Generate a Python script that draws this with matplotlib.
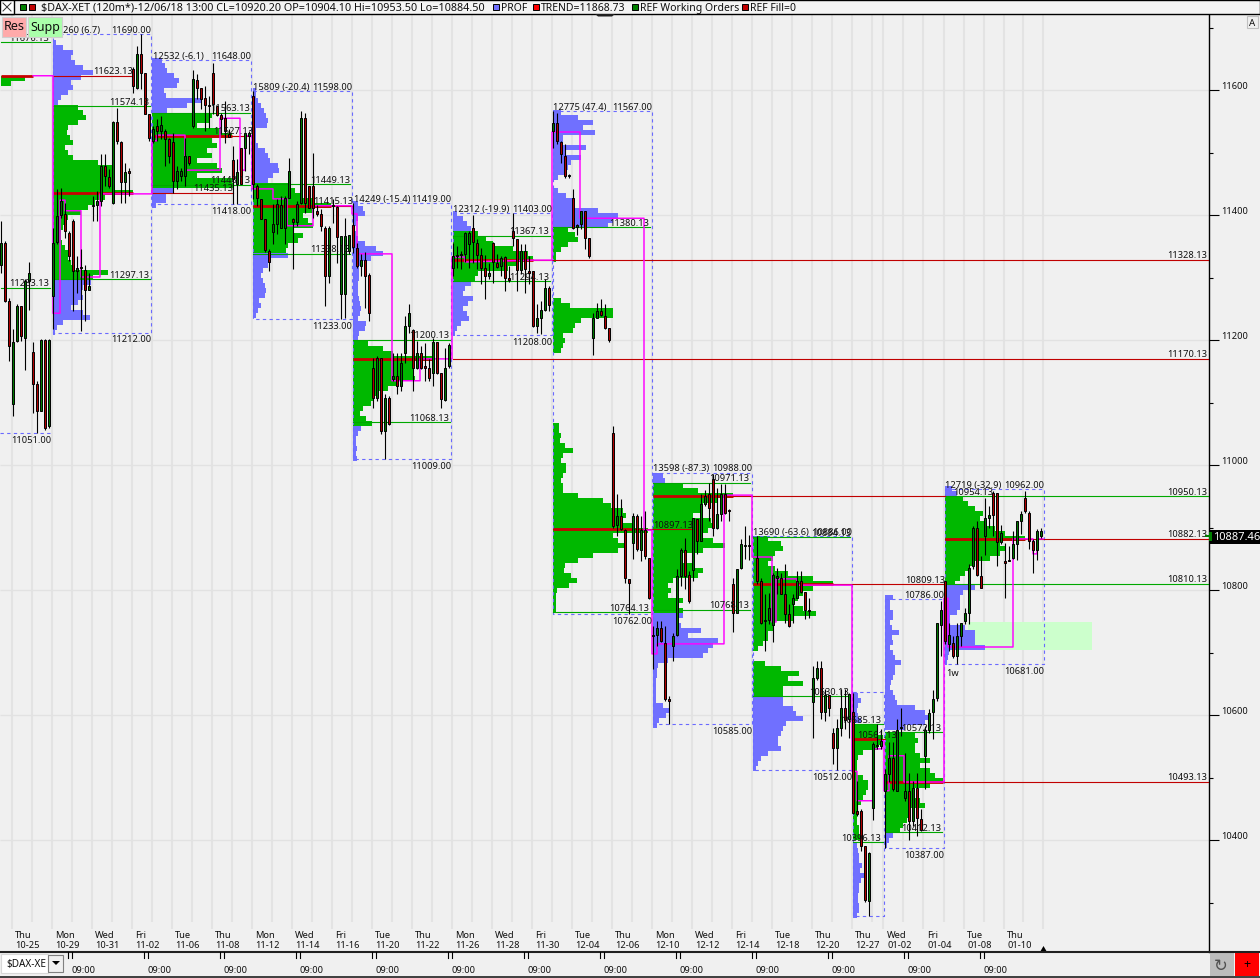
import numpy as np
import matplotlib
matplotlib.use("Agg")
import matplotlib.pyplot as plt
from matplotlib.patches import Rectangle, Polygon

plt.rcParams['font.family'] = ['Noto Sans', 'DejaVu Sans']

read_shift = 4.8

# (bar, open, high, low, close)
candles_oct = [
    (0,11316,11386,11303,11351),(1,11351,11354,11256,11258),(2,11257,11263,11162,11186),(3,11093,11213,11074,11192),
    (4,11193,11253,11192,11249),(5,11249,11249,11194,11201),(6,11199,11293,11148,11290),(7,11289,11320,11244,11302),
    (8,11176,11192,11079,11125),(9,11125,11130,11046,11082),(10,11082,11197,11082,11196),(11,11196,11197,11052,11055),
    (12,11057,11197,11054,11196),(13,11266,11374,11213,11351),(14,11352,11437,11349,11393),(15,11395,11439,11391,11418),
    (16,11397,11414,11358,11369),(17,11366,11370,11322,11330),(18,11385,11389,11242,11305),(19,11305,11329,11271,11311),
    (20,11311,11341,11209,11310),(21,11308,11315,11226,11276),(22,11276,11303,11276,11281),(23,11410,11426,11386,11412),
    (24,11411,11434,11386,11418),(25,11417,11493,11410,11473),(26,11474,11493,11442,11457),(27,11456,11469,11439,11442),
    (28,11415,11546,11413,11544),(29,11544,11567,11509,11514),(30,11512,11514,11415,11448),(31,11448,11479,11415,11464),
    (32,11465,11471,11426,11463),(33,11629,11632,11591,11601),(34,11599,11666,11597,11653),(35,11653,11685,11597,11623),
    (36,11622,11622,11557,11557),(37,11557,11557,11514,11519),(38,11514,11538,11511,11533),(39,11538,11549,11514,11530),
    (40,11530,11554,11517,11539),(41,11530,11533,11474,11517),(42,11517,11519,11479,11490),(43,11512,11527,11431,11450),
    (44,11450,11474,11437,11466),(45,11457,11471,11450,11466),(46,11457,11519,11442,11489),(47,11489,11489,11476,11479),
]
candles_nov1 = [
    (48,11537,11628,11535,11613),(49,11611,11621,11581,11599),(50,11599,11599,11565,11581),(51,11582,11602,11530,11571),
    (52,11571,11586,11535,11570),(53,11623,11639,11557,11573),(54,11570,11570,11553,11555),(55,11555,11559,11525,11549),
    (56,11551,11578,11511,11530),(57,11525,11533,11520,11520),(58,11483,11506,11413,11453),(59,11445,11485,11413,11464),
    (60,11502,11502,11445,11445),(61,11502,11526,11466,11526),(62,11522,11530,11493,11526),(63,11586,11594,11421,11445),
    (64,11442,11445,11410,11422),(65,11421,11421,11389,11389),(66,11389,11389,11336,11340),(67,11338,11341,11306,11320),
    (68,11368,11413,11349,11381),(69,11381,11421,11365,11413),(70,11374,11426,11374,11411),(71,11375,11426,11349,11423),
    (72,11423,11487,11423,11466),(73,11389,11391,11309,11384),(74,11384,11418,11378,11413),(75,11414,11562,11413,11550),
    (76,11550,11559,11399,11415),(77,11441,11441,11407,11407),(78,11441,11495,11391,11407),(79,11402,11412,11394,11397),
    (80,11397,11405,11370,11378),(81,11375,11378,11250,11297),(82,11297,11378,11287,11375),(83,11411,11421,11383,11409),
    (84,11408,11410,11319,11360),(85,11269,11362,11229,11361),(86,11269,11391,11231,11362),(87,11337,11363,11333,11363),
    (88,11379,11415,11335,11344),(89,11343,11351,11311,11313),(90,11314,11333,11298,11323),(91,11323,11336,11247,11298),
    (92,11299,11302,11226,11239),(93,11151,11167,11087,11103),(94,11103,11170,11097,11166),(95,11166,11167,11045,11050),
    (96,11050,11109,11005,11103),(97,11102,11106,11059,11061),(98,11133,11175,11130,11137),(99,11137,11174,11109,11122),
]
candles_nov2 = [
    (100,11122,11175,11114,11159),(101,11174,11234,11159,11217),(102,11217,11253,11207,11238),(103,11212,11213,11114,11150),
    (104,11150,11194,11149,11175),(105,11175,11186,11149,11151),(106,11152,11191,11130,11151),(107,11151,11165,11130,11134),
    (108,11142,11199,11122,11192),(109,11192,11192,11141,11143),(110,11143,11143,11087,11101),(111,11100,11183,11098,11150),
    (112,11153,11191,11151,11187),(113,11311,11350,11297,11330),(114,11330,11346,11311,11332),(115,11331,11338,11309,11333),
    (116,11333,11368,11320,11366),(117,11349,11370,11311,11366),(118,11375,11395,11319,11352),(119,11351,11357,11309,11331),
    (120,11331,11343,11285,11311),(121,11310,11331,11261,11297),(122,11297,11319,11293,11303),(123,11350,11352,11287,11320),
    (124,11319,11333,11311,11312),(125,11314,11330,11298,11327),(126,11328,11330,11274,11295),(127,11293,11314,11288,11292),
    (128,11370,11399,11346,11358),(129,11357,11357,11274,11308),(130,11308,11349,11301,11338),(131,11338,11349,11271,11309),
    (132,11304,11330,11285,11303),(133,11305,11305,11216,11217),(134,11217,11253,11207,11231),(135,11231,11258,11205,11244),
    (136,11244,11293,11242,11278),(137,11278,11282,11242,11251),
]
candles_dec1 = [
    (138,11530,11562,11503,11543),(139,11543,11559,11509,11514),(140,11512,11514,11479,11493),(141,11490,11509,11455,11457),
    (142,11457,11461,11455,11459),(143,11423,11437,11373,11375),(144,11376,11381,11363,11379),(145,11381,11402,11373,11402),
    (146,11402,11402,11341,11359),(147,11358,11359,11326,11330),(148,11199,11239,11171,11230),(149,11231,11255,11230,11241),
    (150,11241,11261,11234,11235),(151,11234,11253,11213,11215),(152,11214,11215,11192,11196),(153,11047,11058,10895,10898),
    (154,10899,10949,10881,10914),(155,10914,10941,10891,10893),(156,10892,10893,10807,10815),(157,10813,10813,10757,10807),
    (158,10871,10919,10845,10913),(159,10914,10917,10858,10861),(160,10860,10914,10842,10891),(161,10891,10921,10845,10849),
    (162,10847,10847,10781,10783),(163,10722,10738,10669,10721),(164,10724,10746,10706,10735),(165,10734,10746,10712,10713),
    (166,10711,10738,10618,10621),(167,10621,10626,10581,10618),(168,10706,10727,10682,10721),(169,10723,10829,10722,10818),
    (170,10818,10862,10802,10859),(171,10859,10879,10797,10818),(172,10820,10826,10775,10777),(173,10828,10911,10810,10910),
    (174,10909,10909,10853,10873),(175,10874,10949,10874,10933),(176,10933,10956,10930,10946),(177,10949,10967,10906,10926),
    (178,10973,10981,10882,10895),(179,10894,10959,10893,10917),(180,10917,10965,10905,10949),(181,10949,10965,10917,10919),
    (182,10923,10925,10905,10921),
]
candles_dec2 = [
    (183,10805,10814,10728,10759),(184,10759,10829,10759,10829),(185,10830,10877,10829,10869),(186,10865,10897,10845,10867),
    (187,10868,10883,10844,10865),(189,10846,10882,10805,10810),(190,10810,10815,10741,10742),(191,10745,10789,10697,10748),
    (192,10748,10791,10741,10766),(193,10739,10823,10712,10819),(194,10815,10830,10789,10816),(195,10815,10823,10789,10789),
    (196,10789,10837,10743,10757),(197,10757,10773,10736,10737),(198,10773,10789,10743,10783),(199,10783,10826,10783,10810),
    (200,10810,10826,10790,10792),(201,10792,10792,10749,10764),(202,10763,10782,10750,10762),(203,10616,10674,10559,10654),
    (204,10654,10682,10652,10670),(205,10670,10682,10589,10600),(206,10600,10637,10586,10627),(207,10627,10627,10593,10607),
    (208,10567,10575,10517,10543),(209,10543,10589,10508,10574),(210,10574,10637,10561,10607),(211,10607,10637,10573,10588),
    (212,10589,10631,10559,10629),(213,10600,10631,10437,10439),(214,10442,10490,10434,10437),(215,10442,10445,10378,10386),
    (216,10385,10386,10296,10300),(217,10298,10376,10274,10375),(218,10447,10552,10428,10549),(219,10546,10581,10541,10548),
    (220,10546,10573,10541,10554),(221,10474,10509,10382,10501),(222,10501,10552,10488,10526),(223,10527,10552,10474,10477),
    (224,10474,10589,10474,10572),(225,10574,10607,10562,10576),(226,10462,10534,10458,10473),(227,10473,10503,10396,10426),
]
candles_jan = [
    (228,10426,10490,10418,10478),(229,10478,10503,10401,10430),(230,10429,10445,10410,10412),(231,10530,10578,10477,10571),
    (232,10572,10605,10567,10599),(233,10600,10636,10557,10621),(234,10623,10743,10618,10742),(235,10739,10778,10690,10763),
    (236,10809,10810,10709,10713),(237,10709,10743,10698,10723),(238,10710,10722,10687,10689),(239,10689,10743,10677,10721),
    (240,10721,10743,10706,10742),(241,10746,10767,10741,10758),(242,10759,10837,10741,10831),(243,10833,10897,10829,10895),
    (244,10895,10906,10818,10819),(245,10818,10850,10798,10799),(246,10881,10942,10851,10910),(247,10911,10930,10895,10915),
    (248,10950,10954,10882,10915),(249,10950,10951,10834,10872),(250,10872,10899,10869,10887),(251,10842,10871,10783,10839),
    (252,10844,10866,10842,10842),(253,10847,10890,10845,10869),(254,10869,10906,10844,10906),(255,10906,10922,10885,10917),
    (256,10943,10953,10919,10921),(257,10918,10922,10861,10874),(258,10873,10877,10823,10860),(259,10860,10893,10844,10890),
    (260,10882,10894,10878,10890),
]

# volume profiles: (bar, top price of first row, colour key, row widths), rows are 8 points tall
profile_rows = [
    (0, 11613, 'g', [24, 10]),
    (13, 11671, 'b', [3,10,20,18,22,30,40,28,18,20,15,8,5]),
    (13, 11567, 'g', [25,30,33,25,15,14,17,20,12,15,20,45,60,62,62,60,62,80,52,42,35,28,15,14,10,8,8,9,12,15,15,18,22,55,40]),
    (13, 11287, 'b', [38,30,28,30,25,18,30,37,10,4,2]),
    (37.75, 11642, 'b', [10,13,15,22,27,25,12,14,50,35,15]),
    (37.75, 11554, 'g', [60,58,45,70,80,60,65,55,60,45,65,70,45,80,82]),
    (37.75, 11434, 'b', [22,14,14,4]),
    (63, 11594, 'b', [3,3,5,8,11,13,15,14,3,3,3,5,12,15,17,25,26,20,15]),
    (63, 11442, 'g', [35,42,48,60,78,60,50,55,60,40,50,45,35,33]),
    (63, 11330, 'b', [35,18,15,10,8,10,12,13,12,6,8,5,3]),
    (88, 11413, 'b', [5,10,12,5,3,2,3,5,12,23,30,18,8,6,6,6,5,5,5,6,7,8,7,5,13,12,6,5]),
    (88, 11189, 'g', [15,30,40,80,62,60,60,62,45,35,25,20,18,10,7,13,19]),
    (88, 11053, 'b', [8,5,3,3,4,3,4]),
    (113, 11397, 'b', [4,10,14,18]),
    (113, 11365, 'g', [25,33,40,60,75,80,65,55,25,22]),
    (113, 11285, 'b', [18,12,10,20,15,10,14,16,8,4,2]),
    (138, 11559, 'b', [8,25,40,30,42,10,10,33,12,28,18,15,12,5]),
    (138, 11434, 'b', [5,13,20,20,45,65,60,55]),
    (138, 11372, 'g', [15,22,25,15,8,3,3]),
    (138, 11258, 'g', [8,17,60,60,28,22,20,10,12,10,8]),
    (138, 11058, 'g', [6,6,8,7,12,20,10,8,13,13,10,8,10,10,25,50,58,70,73,70,80,95,60,65,72,65,40,25,12,11,18,24,16,4,3,3,3,3]),
    (163, 10978, 'b', [10,12]),
    (163, 10963, 'g', [30,45,80,65,50,50,40,58,60,55,50,60,72,50,30,27,40,50,45,20,15,18,15,30,25,30]),
    (163, 10755, 'b', [30,25,28,48,35,65,60,55,50,15,5,4,4,3,3,3,3,3,10,17,13,6,4]),
    (188, 10877, 'g', [15,28,30,22,20,15,22,35,60,80,60,50,45,40,50,63,40,22,20,15,15,10,5]),
    (188, 10677, 'g', [12,28,46,35,50,30,30]),
    (188, 10621, 'b', [30,30,40,43,50,33,30,28,25,25,28,15,8,5,3]),
    (213, 10626, 'b', [5,8,5,4,5,8]),
    (213, 10575, 'g', [25,25,30,28,25,10,5,4,4,4,10,15,15,13,10,8,5,4,4,4,6,6,8]),
    (213, 10386, 'b', [4,5,6,6,9,7,12,8,6,6,5,5,6,6,4]),
    (221, 10783, 'b', [8,5,5,8,8,5,7,14,7,8,5,8,10,16,10,10,8,6,5,8,10,12,30,40,45,40,20]),
    (221, 10563, 'g', [30,33,30,30,35,45,35,45,50,58,45,30,30,35,40,25,25,22,18,15]),
    (221, 10403, 'b', [8,4,2]),
    (236, 10957, 'b', [7,12]),
    (236, 10941, 'g', [18,23,30,38,35,42,50,60,80,55,60,55,45,30,25,20,15,10]),
    (236, 10799, 'b', [30,18,15,15,15,12,5,5,20,30,30,30,40,4,3,2]),
]

# session boxes
box_left = [13, 37.75, 63, 88, 113, 138, 163, 188, 213, 221, 236]
box_right = [37.5, 62.5, 87.75, 112.5, 137.75, 162.75, 187.75, 212.75, 220.75, 235.75, 260.75]
box_high = [11690, 11648, 11598, 11419, 11403, 11567, 10988, 10886, 10637, 10786, 10962]
box_low = [11212, 11418, 11233, 11009, 11208, 10762, 10585, 10512, 10278, 10387, 10681]
box_note = ['260 (6.7)', '12532 (-6.1)', '15809 (-20.4)', '14249 (-15.4)', '12312 (-19.9)', '12775 (47.4)',
            '13598 (-87.3)', '13690 (-63.6)', '', '', '12719 (-32.9)']
box_note_bar = [15.5, 38, 63, 88.25, 113, 138, 163, 188, 213, 221, 236]
box_has_labels = [True, True, True, True, True, True, True, True, False, True, True]

# (price, from bar, to bar, bar where the label ends)
green_levels = [
    (11574.13,13,37.25,37),(11297.13,13,37.25,37),(11283.13,0,12.25,12),(11563.13,37.75,62.25,62.25),
    (11448.13,37.75,62.25,62.25),(11449.13,63,87.25,87.25),(11338.13,63,87.25,87.25),(11200.13,88,112.25,112),
    (11068.13,88,112.25,112),(11367.13,113,137.25,137),(11294.13,113,137.25,137),(11380.13,138,162.25,162),
    (10764.13,138,162.25,162),(10971.13,163,187.25,187),(10768.13,163,187.25,187),(10884.13,188,212.25,212.5),
    (10630.13,188,212.25,212),(10585.13,213,220.5,220),(10396.13,213,220.5,220),(10572.13,221,235.25,235),
    (10412.13,221,235.25,235),(10950.13,236,302,301.5),(10810.13,236,302,301.5),(11676.13,0,12.25,12),
]
red_levels = [
    (11623.13,13,33,33),(11435.13,37.75,58,58),(11527.13,46,63,63),(11415.13,63,88,88),(10897.13,138,173,173),
    (11328.13,133,302,301.5),(11170.13,113,302,301.5),(10809.13,199,236,236),(10493.13,224,302,301.5),
    (10882.13,236,302,301.5),(10561.13,213,221,224),(10950.00,183,236,None),
]
extra_label = ('10954.13', 248, 10950.13)

# point of control per session: (price, from bar, to bar)
poc_levels = [
    (11622,0,8),(11435,13,33),(11527,37.75,57.75),(11415,63,82.5),(11170,88,108),(11328,113,133),
    (10897,138,158),(10950,163,183),(10809,188,208),(10561,213,219),(10493,221,235.5),(10882,236,256),
]

trend_bar = [8,13,13,14.75,14.75,16,16,20,20,24.75,24.75,37.75,37.75,39,39,46,46,54.75,54.75,59.75,59.75,61,61,62.75,62.75,68,68,
             71.5,71.5,78,78,87.75,87.75,89,89,97.75,97.75,104.75,104.75,112.75,112.75,116,116,132.75,137.75,137.75,144.75,144.75,
             160.75,160.75,162.75,162.75,164,164,180.75,180.75,187.75,187.75,192.75,192.75,193.75,193.75,199,199,212.75,212.75,
             214,214,218,218,220.25,220.25,220.75,220.75,222,222,225.75,225.75,235.75,235.75,236.75,236.75,253,253,258,258,259,259,260.5]
trend_price = [11618,11618,11238,11238,11419,11419,11402,11402,11296,11296,11429,11429,11514,11514,11523,11523,11467,11467,11550,11550,
               11467,11467,11522,11522,11437,11437,11421,11421,11378,11378,11410,11410,11397,11397,11333,11333,11130,11130,11165,11165,
               11328,11328,11320,11323,11323,11528,11528,11390,11390,10891,10891,10693,10693,10709,10709,10947,10947,10848,10848,
               10744,10744,10813,10813,10803,10803,10505,10505,10458,10458,10541,10541,10554,10554,10474,10474,10530,10530,10488,10488,
               10782,10782,10704,10704,10877,10877,10853,10853,10877,10877]

date_bars = [3.5,13.5,23.5,33.5,43.5,53.5,63.5,73.5,83.5,93.5,103.5,113.5,123.5,133.5,143.5,153.5,163.5,173.5,183.5,193.5,203.5,213.5,221.5,231.5,241.5,251.5]
date_labels = ['Thu\n10-25','Mon\n10-29','Wed\n10-31','Fri\n11-02','Tue\n11-06','Thu\n11-08','Mon\n11-12','Wed\n11-14','Fri\n11-16',
               'Tue\n11-20','Thu\n11-22','Mon\n11-26','Wed\n11-28','Fri\n11-30','Tue\n12-04','Thu\n12-06','Mon\n12-10','Wed\n12-12',
               'Fri\n12-14','Tue\n12-18','Thu\n12-20','Thu\n12-27','Wed\n01-02','Fri\n01-04','Tue\n01-08','Thu\n01-10']
grid_bars = list(np.arange(2.75, 218, 5)) + [220.5, 225.5, 230.5, 235.75, 240.75, 245.75, 250.75, 255.5, 260.5]
hour_marks = [72,148,224,300,376,452,528,604,680,756,832,908,984]
last_price = 10887.46

fig = plt.figure(figsize=(12.6, 9.79), dpi=100, facecolor='#f0f0f0')
ax = fig.add_axes([0, 26/979, 1209/1260, (953-16)/979], facecolor='#f0f0f0')
ax.set_xlim(-0.25, 302)
ax.set_ylim(10220.8, 11720)

for s in ['top', 'left', 'bottom']:
    ax.spines[s].set_visible(False)
ax.spines['right'].set_color('black')
ax.spines['right'].set_linewidth(1)

label_size = 6.7
ax.yaxis.tick_right()
ax.set_yticks(np.arange(10400, 11601, 200))
ax.set_yticklabels([str(v) for v in np.arange(10400, 11601, 200)], fontsize=label_size, va='bottom', color='#101010')
ax.set_yticks(np.arange(10300, 11701, 200), minor=True)
ax.tick_params(axis='y', which='major', length=7.5, width=0.8, pad=1.5)
ax.tick_params(axis='y', which='minor', length=3, width=0.8)
ax.set_xticks(date_bars)
ax.set_xticklabels(date_labels, fontsize=label_size, color='#101010', ha='left', multialignment='left', linespacing=1.2)
ax.tick_params(axis='x', length=0, pad=-16)

# grid
for i, b in enumerate(grid_bars):
    ax.vlines(b, 10257.6 if i % 2 == 0 else 10269, 11720, color='#e3e3e3', lw=1.5, zorder=1)
ax.hlines(np.arange(10400, 11601, 200), -0.25, 302, color='#e2e2e2', lw=1, zorder=1)

# support zone
ax.add_patch(Rectangle((241.75, 10704), 31, 45, color='#ccffcc', lw=0, zorder=1.5))

colors = {'g': '#00b800', 'b': '#7070ff'}
for bar0, top, key, widths in profile_rows:
    prices = top + read_shift - 8 * np.arange(len(widths))
    ax.barh(prices, np.array(widths) / 4, left=bar0, height=8, color=colors[key], lw=0, antialiased=False, zorder=2)

for left, right, hi, lo, note, note_bar, show in zip(box_left, box_right, box_high, box_low, box_note, box_note_bar, box_has_labels):
    ax.plot([left, right, right, left, left], [hi, hi, lo, lo, hi], color='#6a6aff', lw=0.8, ls=(0, (3, 3)), zorder=3)
    if show:
        ax.text(right, hi, f'{hi}.00', ha='right', va='bottom', fontsize=label_size, color='#101010', zorder=6)
        ax.text(right, lo - 3, f'{lo}.00', ha='right', va='top', fontsize=label_size, color='#101010', zorder=6)
    if note:
        ax.text(note_bar, hi, note, ha='left', va='bottom', fontsize=label_size, color='#101010', zorder=6)
ax.plot([-0.25, 12.5], [11051, 11051], color='#6a6aff', lw=0.8, ls=(0, (3, 3)), zorder=3)
ax.text(12.5, 11048, '11051.00', ha='right', va='top', fontsize=label_size, color='#101010', zorder=6)

for price, b0, b1, lab in green_levels:
    ax.plot([b0, b1], [price, price], color='#00a800', lw=0.8, zorder=3)
    ax.text(lab, price + 1, f'{price:.2f}', ha='right', va='bottom', fontsize=label_size, color='#101010', zorder=6)
for price, b0, b1, lab in red_levels:
    ax.plot([b0, b1], [price, price], color='#c00000', lw=0.8, zorder=3)
    if lab is not None:
        ax.text(lab, price + 1, f'{price:.2f}', ha='right', va='bottom', fontsize=label_size, color='#101010', zorder=6)
ax.text(extra_label[1], extra_label[2] + 1, extra_label[0], ha='right', va='bottom', fontsize=label_size, color='#101010', zorder=6)
for price, b0, b1 in poc_levels:
    ax.plot([b0, b1], [price, price], color='#c80000', lw=2, solid_capstyle='butt', zorder=3.2)

ax.plot(trend_bar, np.array(trend_price) + read_shift, color='#ff00ff', lw=1.05, zorder=3.4)

for rows in [candles_oct, candles_nov1, candles_nov2, candles_dec1, candles_dec2, candles_jan]:
    arr = np.array(rows, dtype=float)
    bar, op, hi, lo, cl = arr.T
    ax.vlines(bar, lo + read_shift, hi + read_shift, color='black', lw=0.8, zorder=4)
    cols = np.where(cl >= op, '#007800', '#b00000')
    ax.bar(bar, np.maximum(np.abs(cl - op), 2), bottom=np.minimum(op, cl) + read_shift, width=0.55,
           color=cols, edgecolor='black', lw=0.7, zorder=4.5)

# window furniture, in pixels
ui = fig.add_axes([0, 0, 1, 1], facecolor='none')
ui.set_xlim(0, 1260)
ui.set_ylim(979, 0)
ui.axis('off')

ui.add_patch(Rectangle((0, 1), 1260, 14, fc='#f4f4f4', ec='black', lw=1))
ui.add_patch(Rectangle((0, 1), 14, 14, fc='white', ec='black', lw=1))
ui.plot([3, 11], [4, 12], color='#303030', lw=0.7)
ui.plot([3, 11], [12, 4], color='#303030', lw=0.7)
for x, c in [(20, '#008000'), (29, '#c00000')]:
    ui.add_patch(Rectangle((x, 5), 6, 6, fc=c, ec='black', lw=0.7))
ui.text(41, 8.5, '$DAX-XET (120m*)-12/06/18 13:00 CL=10920.20 OP=10904.10 Hi=10953.50 Lo=10884.50',
        fontsize=7.8, va='center', color='#101010')
for x, c, t in [(493, '#7070ff', 'PROF'), (533, '#ff0000', 'TREND=11868.73'),
                (632, '#008000', 'REF Working Orders'), (742, '#c00000', 'REF Fill=0')]:
    ui.add_patch(Rectangle((x, 5), 6, 6, fc=c, ec='black', lw=0.7))
    ui.text(x + 8, 8.5, t, fontsize=7.5, va='center', color='#101010')
ui.add_patch(Polygon([[595, 15], [615, 15], [612, 17.5], [598, 17.5]], fc='#202020', ec='none'))

ui.add_patch(Rectangle((2, 18), 24, 20, fc='#ffaaaa', ec='#d0d0d0', lw=0.8))
ui.add_patch(Rectangle((28, 18), 34, 20, fc='#aaffaa', ec='#d0d0d0', lw=0.8))
ui.text(14, 27, 'Res', fontsize=9, ha='center', va='center', color='#101010')
ui.text(45, 27, 'Supp', fontsize=9, ha='center', va='center', color='#101010')
ui.add_patch(Rectangle((1247, 17), 11, 12, fc='#f0f0f0', ec='#c0c0c0', lw=0.8))
ui.text(1252.5, 23, 'A', fontsize=7, ha='center', va='center', color='#101010')

ui.text(946, 674, '1w', fontsize=label_size, va='center', color='#101010')

# last price tag
ui.add_patch(Rectangle((1210, 531), 50, 14, fc='black', ec='none'))
ui.add_patch(Rectangle((1209, 533), 3, 9, fc='#008000', ec='none'))
ui.add_patch(Rectangle((1205, 536), 4, 2, fc='#008000', ec='none'))
ui.text(1213, 538, f'{last_price:.2f}', color='white', fontsize=8, va='center')

# bottom strip
ui.plot([0, 1260], [953, 953], color='#202020', lw=1.5)
ui.plot([0, 1260], [977.5, 977.5], color='#202020', lw=1.2)
for x in hour_marks:
    ui.plot([x - 4, x - 4], [953, 959], color='black', lw=0.8)
    ui.plot([x, x], [953, 959], color='black', lw=0.8)
    ui.text(x, 970.5, '09:00', fontsize=label_size, va='center', color='#101010')
ui.add_patch(Rectangle((1, 955), 47, 19, fc='white', ec='#d8d8d8', lw=0.8))
ui.add_patch(Rectangle((48, 956), 15, 17, fc='#f0f0f0', ec='#808080', lw=0.8))
ui.add_patch(Polygon([[52, 962], [60, 962], [56, 966]], fc='black'))
ui.text(6, 964.5, '$DAX-XE', fontsize=7.2, va='center', color='#101010')
ui.add_patch(Polygon([[1040, 953], [1047, 953], [1043.5, 947]], fc='black'))
ui.add_patch(Rectangle((1210, 954), 24, 23, fc='#bcbcbc', ec='none'))
ui.text(1221, 966, '\u21bb', fontsize=12, ha='center', va='center', color='#505050', family='DejaVu Sans')
ui.add_patch(Rectangle((1235, 954), 24, 23, fc='#ff0000', ec='none'))
ui.text(1247, 965, '+', fontsize=9, ha='center', va='center', color='black')

fig.savefig('out.png', dpi=100, facecolor=fig.get_facecolor())
